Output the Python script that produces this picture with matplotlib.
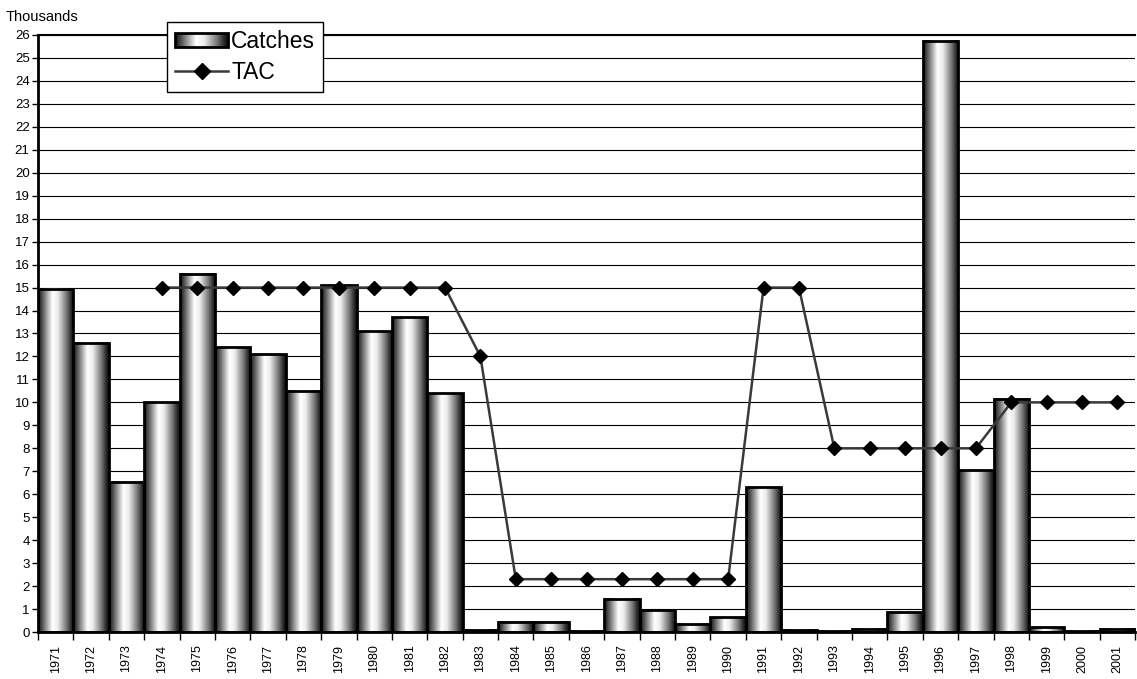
import numpy as np
import matplotlib
matplotlib.use("Agg")
import matplotlib.pyplot as plt
from matplotlib.colors import LinearSegmentedColormap
from matplotlib.legend_handler import HandlerBase
from matplotlib.image import BboxImage
from matplotlib.transforms import Bbox, TransformedBbox
from matplotlib.patches import Rectangle
from matplotlib.lines import Line2D

plt.rcParams['font.family'] = ['Liberation Sans', 'DejaVu Sans']

years = list(range(1971, 2002))
catches = [14.95, 12.6, 6.55, 10.0, 15.6, 12.4, 12.1, 10.5, 15.1, 13.1, 13.7, 10.4,
           0.1, 0.45, 0.45, 0.05, 1.45, 0.95, 0.35, 0.65, 6.3, 0.1, 0.05, 0.15,
           0.85, 25.75, 7.05, 10.15, 0.2, 0.05, 0.15]
tac_years = list(range(1974, 2002))
tac = [15, 15, 15, 15, 15, 15, 15, 15, 15, 12, 2.3, 2.3, 2.3, 2.3, 2.3, 2.3, 2.3,
       15, 15, 8, 8, 8, 8, 8, 10, 10, 10, 10]

# cylinder-like shading for the bars
shade = LinearSegmentedColormap.from_list("cyl", [
    (0.0, (0.05, 0.05, 0.05)), (0.15, (0.4, 0.4, 0.4)), (0.4, (1, 1, 1)),
    (0.55, (0.93, 0.93, 0.93)), (0.8, (0.45, 0.45, 0.45)), (0.93, (0.15, 0.15, 0.15)),
    (1.0, (0.05, 0.05, 0.05))])
grad = np.linspace(0, 1, 256).reshape(1, -1)


class GradHandler(HandlerBase):
    def create_artists(self, legend, orig, xdescent, ydescent, width, height, fontsize, trans):
        bb = TransformedBbox(Bbox.from_bounds(-xdescent, -ydescent, width, height), trans)
        im = BboxImage(bb, cmap=shade, interpolation='bilinear')
        im.set_data(grad)
        rect = Rectangle((-xdescent, -ydescent), width, height, fc='none', ec='black',
                         lw=2, transform=trans)
        return [im, rect]


fig = plt.figure(figsize=(11.37, 6.79), dpi=100)
ax = fig.add_axes([0.0334, 0.0692, 0.965, 0.8793])

x = np.arange(len(years))
for xi, v in zip(x, catches):
    ax.imshow(grad, cmap=shade, extent=[xi - 0.5, xi + 0.5, 0, v], aspect='auto',
              interpolation='bilinear', zorder=2)
    ax.add_patch(Rectangle((xi - 0.5, 0), 1, v, fc='none', ec='black', lw=2, zorder=3))

tx = [years.index(y) for y in tac_years]
ax.plot(tx, tac, color='#3a3a3a', lw=1.8, marker='D', markersize=7,
        markerfacecolor='black', markeredgecolor='black', zorder=4)

ax.set_xlim(-0.5, len(years) - 0.5)
ax.set_ylim(0, 26)
ax.set_yticks(range(0, 27))
ax.tick_params(axis='y', labelsize=9.5, length=4, width=1, pad=2)
ax.yaxis.grid(True, color='black', lw=0.8)
ax.set_axisbelow(True)

ax.set_xticks(x)
ax.set_xticklabels([str(y) for y in years], rotation=90, fontsize=9)
ax.tick_params(axis='x', which='major', length=0, pad=9)
ax.set_xticks(np.arange(-0.5, len(years)), minor=True)
ax.tick_params(axis='x', which='minor', length=6, width=1)

ax.spines['left'].set_linewidth(2)
ax.spines['bottom'].set_linewidth(2)
ax.spines['top'].set_linewidth(1.5)
ax.spines['right'].set_visible(False)

fig.text(0.005, 0.975, "Thousands", fontsize=10.5, va='center')

h_bar = Rectangle((0, 0), 1, 1)
h_line = Line2D([], [], color='#3a3a3a', lw=1.8, marker='D', markersize=8,
                markerfacecolor='black', markeredgecolor='black')
leg = ax.legend([h_bar, h_line], ["Catches", "TAC"], loc='upper left',
                bbox_to_anchor=(0.147, 0.968), bbox_transform=fig.transFigure,
                fontsize=16.5, handlelength=2.3, handleheight=0.55, handletextpad=0.15,
                borderpad=0.35, labelspacing=0.35, borderaxespad=0, fancybox=False,
                framealpha=1, handler_map={Rectangle: GradHandler()})
leg.get_frame().set_edgecolor('black')
leg.get_frame().set_linewidth(1)
leg.set_zorder(10)

fig.savefig("out.png", dpi=100)
